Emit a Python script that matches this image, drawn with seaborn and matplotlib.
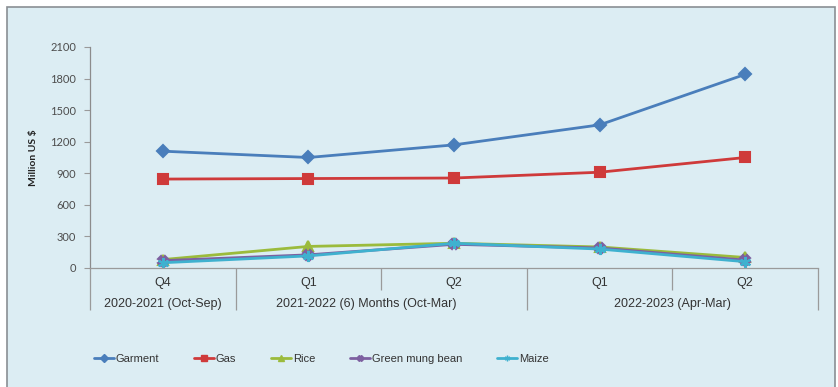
import matplotlib
matplotlib.use("Agg")
import matplotlib.pyplot as plt
from matplotlib.patches import Rectangle
from matplotlib.lines import Line2D
import seaborn as sns
import pandas as pd

# Export values (million US $) by period
quarters = ["Q4", "Q1", "Q2", "Q1", "Q2"]
groups = ["2020-2021 (Oct-Sep)", "2021-2022 (6) Months (Oct-Mar)", "2022-2023 (Apr-Mar)"]
group_spans = [(0, 0), (1, 2), (3, 4)]
garment = [1110, 1050, 1170, 1360, 1840]
gas = [845, 850, 855, 910, 1050]
rice = [80, 205, 235, 200, 100]
green_mung_bean = [70, 125, 225, 190, 75]
maize = [50, 115, 235, 180, 60]
yticks = [0, 300, 600, 900, 1200, 1500, 1800, 2100]

series = {
    "Garment": garment,
    "Gas": gas,
    "Rice": rice,
    "Green mung bean": green_mung_bean,
    "Maize": maize,
}
palette = {
    "Garment": "#4a7ebb",
    "Gas": "#cf3a3a",
    "Rice": "#9bbb3c",
    "Green mung bean": "#7d60a0",
    "Maize": "#3fb1cf",
}
markers = {
    "Garment": "D",
    "Gas": "s",
    "Rice": "^",
    "Green mung bean": "X",
    "Maize": (6, 2, 0),
}
msizes = {"Garment": 6, "Gas": 6.5, "Rice": 6.5, "Green mung bean": 6.5, "Maize": 8}

rows = []
for name, vals in series.items():
    for i, v in enumerate(vals):
        rows.append({"pos": i, "value": v, "series": name})
df = pd.DataFrame(rows)

sns.set_theme(style="white")
plt.rcParams["font.family"] = ["Liberation Sans", "DejaVu Sans"]

W, H = 838, 387
fig = plt.figure(figsize=(W / 100, H / 100), dpi=100)
fig.patch.set_facecolor("white")

# light blue panel behind the chart
fig.patches.append(Rectangle((7 / W, -0.02), (835 - 7) / W, 1 - 7 / H + 0.02,
                             transform=fig.transFigure, facecolor="#dcedf3",
                             edgecolor="#8a8f93", linewidth=1.2, zorder=-10))

ax = fig.add_axes([90 / W, 1 - 268 / H, (818 - 90) / W, (268 - 47) / H])
ax.set_facecolor("none")
ax.set_zorder(1)

for name in series:
    sub = df[df["series"] == name]
    sns.lineplot(data=sub, x="pos", y="value", ax=ax, color=palette[name],
                 marker=markers[name], markersize=msizes[name],
                 markeredgecolor=palette[name], markeredgewidth=1.5,
                 linewidth=2.0, label=name, legend=False)

ax.set_xlim(-0.5, len(quarters) - 0.5)
ax.set_ylim(0, 2100)
ax.set_yticks(yticks)
ax.set_yticklabels([str(t) for t in yticks], fontsize=8, color="#4d4d4d",
                   family=["Lato", "DejaVu Sans"])
ax.tick_params(axis="y", length=4, width=0.8, color="#9a9a9a", pad=6, left=True)
ax.set_xticks([])
ax.set_xlabel("")
ax.set_ylabel("Million US $", fontsize=7.5, fontweight="bold", color="#222222",
              labelpad=9, family=["Lato", "DejaVu Sans"])
for s in ["top", "right"]:
    ax.spines[s].set_visible(False)
ax.spines["left"].set_color("#8c8c8c")
ax.spines["bottom"].set_color("#9a9a9a")
ax.spines["left"].set_linewidth(0.9)
ax.spines["bottom"].set_linewidth(0.9)

# category table below the axis
tr = ax.get_xaxis_transform()
short = -22 / 221
full = -42 / 221
group_edges = {-0.5} | {b + 0.5 for _, b in group_spans}
for k in range(len(quarters) + 1):
    xe = k - 0.5
    ymin = full if xe in group_edges else short
    ax.vlines(xe, ymin, 0, transform=tr, colors="#9a9a9a", linewidth=0.9,
              clip_on=False)
for i, q in enumerate(quarters):
    ax.text(i, -15 / 221, q, transform=tr, ha="center", va="center",
            fontsize=9, color="#333333")
group_x = [0, 1.4, 3.5]
for gx, g in zip(group_x, groups):
    ax.text(gx, -36 / 221, g, transform=tr, ha="center", va="center",
            fontsize=9, color="#333333")

# legend row
handles = [Line2D([0], [0], color=palette[n], marker=markers[n], markersize=4,
                  markeredgecolor=palette[n], linewidth=2) for n in series]
leg = fig.legend(handles, list(series.keys()), loc="center left",
                 bbox_to_anchor=(84 / W, 1 - 359 / H), ncol=5, frameon=False,
                 fontsize=8, handlelength=1.8, handletextpad=0.15,
                 columnspacing=3.15)
for t in leg.get_texts():
    t.set_color("#333333")

fig.savefig("out.png", dpi=100)
